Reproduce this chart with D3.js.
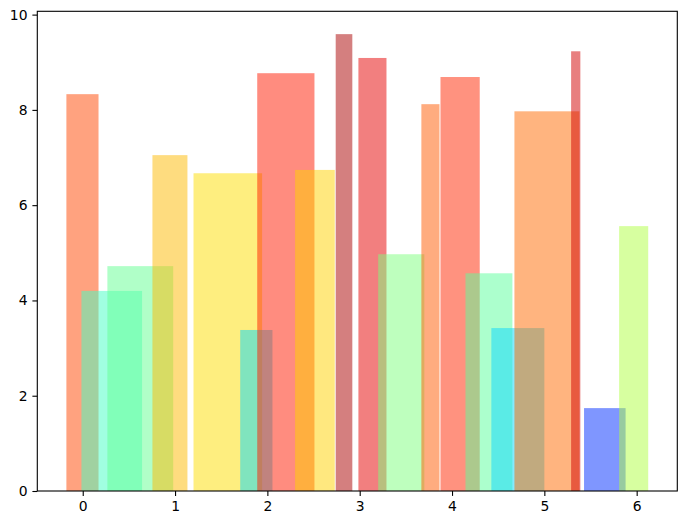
<!DOCTYPE html>
<html>
<head>
<meta charset="utf-8">
<script src="https://cdn.jsdelivr.net/npm/d3@7"></script>
<style>
  body { margin: 0; background: #fff; }
  text { font-family: 'DejaVu Sans', sans-serif; }
</style>
</head>
<body>
<svg id="chart" width="687" height="525"></svg>
<script>
// bars in drawing order: left edge, width, height, colour (drawn at 50% alpha)
const barLeft = [-0.177, -0.014, 0.267, 0.755, 1.2, 1.706, 1.89, 2.30, 2.74, 2.986, 3.2, 3.668, 3.875, 4.146, 4.426, 4.676, 5.29, 5.43, 5.81];
const barWidth = [0.348, 0.657, 0.713, 0.379, 0.743, 0.349, 0.62, 0.43, 0.18, 0.304, 0.50, 0.196, 0.425, 0.508, 0.574, 0.704, 0.10, 0.45, 0.315];
const barHeight = [8.33, 4.2, 4.72, 7.05, 6.67, 3.38, 8.77, 6.74, 9.59, 9.09, 4.97, 8.12, 8.69, 4.57, 3.42, 7.97, 9.23, 1.74, 5.56];
const barColor = ['#ff4500', '#41ffc3', '#61ff91', '#fdb900', '#fddd00', '#02dafe', '#ff1900', '#ffd200',
  '#aa0000', '#e60000', '#7dff7d', '#ff5a00', '#ff2500', '#59ff9b', '#08d7ff', '#ff6900', '#d20000', '#002dff', '#afff41'];
const xTicks = [0, 1, 2, 3, 4, 5, 6];
const yTicks = [0, 2, 4, 6, 8, 10];

const margin = { left: 37.3, right: 677.3, top: 11.3, bottom: 491 };
const svg = d3.select('#chart');

const bars = barLeft.map((l, i) => ({ l, w: barWidth[i], h: barHeight[i], c: barColor[i] }));
const xMin = d3.min(bars, d => d.l);
const xMax = d3.max(bars, d => d.l + d.w);
const pad = (xMax - xMin) * 0.05;
const yMax = d3.max(barHeight) * 1.05;

const x = d3.scaleLinear().domain([xMin - pad, xMax + pad]).range([margin.left, margin.right]);
const y = d3.scaleLinear().domain([0, yMax]).range([margin.bottom, margin.top]);

svg.append('g')
  .selectAll('rect')
  .data(bars)
  .join('rect')
  .attr('x', d => x(d.l))
  .attr('width', d => x(d.l + d.w) - x(d.l))
  .attr('y', d => y(d.h))
  .attr('height', d => y(0) - y(d.h))
  .attr('fill', d => d.c)
  .attr('fill-opacity', 0.5);

const xAxis = svg.append('g')
  .attr('transform', `translate(0,${margin.bottom})`)
  .call(d3.axisBottom(x).tickValues(xTicks).tickSize(4.9).tickPadding(4.9).tickFormat(d3.format('d')));
const yAxis = svg.append('g')
  .attr('transform', `translate(${margin.left},0)`)
  .call(d3.axisLeft(y).tickValues(yTicks).tickSize(4.9).tickPadding(4.9).tickFormat(d3.format('d')));

[xAxis, yAxis].forEach(g => {
  g.select('.domain').remove();
  g.selectAll('line').attr('stroke', '#000').attr('stroke-width', 1.1);
  g.selectAll('text').attr('font-size', '13.9px').attr('fill', '#000').style('font-family', 'DejaVu Sans');
});

svg.append('rect')
  .attr('x', margin.left)
  .attr('y', margin.top)
  .attr('width', margin.right - margin.left)
  .attr('height', margin.bottom - margin.top)
  .attr('fill', 'none')
  .attr('stroke', '#000')
  .attr('stroke-width', 1.1);
</script>
</body>
</html>
